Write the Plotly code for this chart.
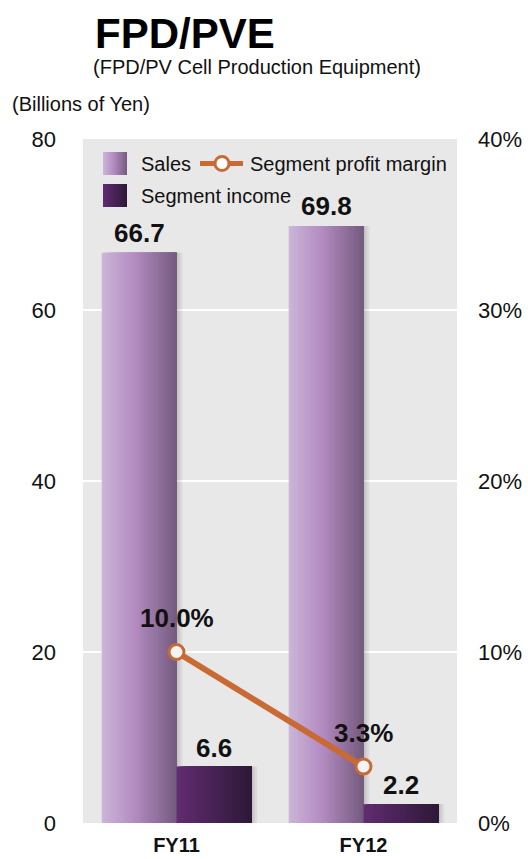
import plotly.graph_objects as go

# ---- data ----
categories = ["FY11", "FY12"]
sales = [66.7, 69.8]            # billions of yen
segment_income = [6.6, 2.2]     # billions of yen
profit_margin = [0.100, 0.033]  # share of sales

FONT = "Liberation Sans, Arial, sans-serif"
ORANGE = "#c96a35"

W, H = 528, 859
L, R, T, B = 83, 71, 139, 36
PW, PH = W - L - R, H - T - B


def lerp(stops, t):
    for (t0, c0), (t1, c1) in zip(stops, stops[1:]):
        if t <= t1:
            f = (t - t0) / (t1 - t0) if t1 > t0 else 0
            return "rgb(%d,%d,%d)" % tuple(round(a + (b - a) * f) for a, b in zip(c0, c1))
    return "rgb(%d,%d,%d)" % stops[-1][1]


SALES_STOPS = [(0.0, (203, 182, 216)), (0.45, (179, 139, 193)), (1.0, (116, 90, 126))]
INCOME_STOPS = [(0.0, (98, 44, 114)), (1.0, (45, 25, 55))]

BAR_W = 0.4
N = 36
px = 1.0 / (PW / 2)  # one pixel in category units

fig = go.Figure()


def shadow(values, start):
    # soft drop shadow to the right of a bar
    for k, a in enumerate([0.16, 0.10, 0.05]):
        fig.add_trace(go.Bar(
            x=categories, y=values, offset=start + BAR_W + k * 2 * px, width=2 * px,
            marker=dict(color="rgba(0,0,0,%.2f)" % a, line=dict(width=0)),
            showlegend=False, hoverinfo="skip"))


def gradient_bar(values, start, stops, name):
    # horizontal gradient built from thin overlapping slices, left to right
    sw = BAR_W / N
    for i in range(N):
        fig.add_trace(go.Bar(
            x=categories, y=values, offset=start + i * sw,
            width=(BAR_W - i * sw) if i < N - 1 else sw,
            marker=dict(color=lerp(stops, (i + 0.5) / N), line=dict(width=0)),
            name=name, showlegend=False, hoverinfo="skip"))


shadow(sales, -BAR_W)
shadow(segment_income, 0)
gradient_bar(sales, -BAR_W, SALES_STOPS, "Sales")
gradient_bar(segment_income, 0.0, INCOME_STOPS, "Segment income")

fig.add_trace(go.Scatter(
    x=categories, y=profit_margin, yaxis="y2", mode="lines+markers",
    line=dict(color=ORANGE, width=6),
    marker=dict(size=15, color="#f4f4f4", line=dict(color=ORANGE, width=3)),
    name="Segment profit margin", showlegend=False))

annotations = []
lab_font = dict(family=FONT, size=26, color="#111111", weight="bold")
for i, v in enumerate(sales):
    annotations.append(dict(x=i - BAR_W / 2, y=v, xref="x", yref="y", text=f"{v:.1f}",
                            showarrow=False, yanchor="bottom", yshift=3, font=lab_font))
for i, v in enumerate(segment_income):
    annotations.append(dict(x=i + BAR_W / 2, y=v, xref="x", yref="y", text=f"{v:.1f}",
                            showarrow=False, yanchor="bottom", yshift=2, font=lab_font))
for i, v in enumerate(profit_margin):
    annotations.append(dict(x=i, y=v, xref="x", yref="y2", text=f"{v * 100:.1f}%",
                            showarrow=False, yanchor="middle", yshift=34, font=lab_font))


def ppx(x):
    return (x - L) / PW


def ppy(y):
    return (H - B - y) / PH


# titles
annotations += [
    dict(x=ppx(93), y=ppy(33), xref="paper", yref="paper", text="<b>FPD/PVE</b>",
         showarrow=False, xanchor="left", yanchor="middle",
         font=dict(family=FONT, size=42, color="#000000")),
    dict(x=ppx(91), y=ppy(67), xref="paper", yref="paper",
         text="(FPD/PV Cell Production Equipment)",
         showarrow=False, xanchor="left", yanchor="middle",
         font=dict(family=FONT, size=20, color="#111111")),
    dict(x=ppx(10), y=ppy(104), xref="paper", yref="paper", text="(Billions of Yen)",
         showarrow=False, xanchor="left", yanchor="middle",
         font=dict(family=FONT, size=20, color="#111111")),
]

# legend drawn by hand
leg_font = dict(family=FONT, size=20, color="#111111")
shapes = []


def swatch(x0, y0, x1, y1, stops, n=24):
    w = (x1 - x0) / n
    for i in range(n):
        shapes.append(dict(type="rect", xref="paper", yref="paper",
                           x0=ppx(x0 + i * w), x1=ppx(x1),
                           y0=ppy(y1), y1=ppy(y0), line=dict(width=0),
                           fillcolor=lerp(stops, (i + 0.5) / n)))


swatch(103, 152, 127, 175, SALES_STOPS)
swatch(103, 184, 127, 207, INCOME_STOPS)
shapes.append(dict(type="line", xref="paper", yref="paper", x0=ppx(200), x1=ppx(243),
                   y0=ppy(163.5), y1=ppy(163.5), line=dict(color=ORANGE, width=5)))
shapes.append(dict(type="circle", xref="paper", yref="paper",
                   x0=ppx(215), x1=ppx(229), y0=ppy(170.5), y1=ppy(156.5),
                   fillcolor="#ffffff", line=dict(color=ORANGE, width=3)))
annotations += [
    dict(x=ppx(139), y=ppy(163.5), xref="paper", yref="paper", text="Sales",
         showarrow=False, xanchor="left", yanchor="middle", font=leg_font),
    dict(x=ppx(248), y=ppy(163.5), xref="paper", yref="paper", text="Segment profit margin",
         showarrow=False, xanchor="left", yanchor="middle", font=leg_font),
    dict(x=ppx(139), y=ppy(195.5), xref="paper", yref="paper", text="Segment income",
         showarrow=False, xanchor="left", yanchor="middle", font=leg_font),
]

fig.update_layout(
    width=W, height=H, margin=dict(l=L, r=R, t=T, b=B, autoexpand=False),
    paper_bgcolor="#ffffff", plot_bgcolor="#e8e8e8",
    barmode="overlay", showlegend=False,
    font=dict(family=FONT, color="#111111"),
    xaxis=dict(type="category", range=[-0.5, 1.5], showgrid=False, zeroline=False,
               showline=False, ticks="", ticklabelstandoff=8, automargin=False,
               tickfont=dict(family=FONT, size=20, color="#111111", weight="bold")),
    yaxis=dict(range=[0, 80], tickvals=[0, 20, 40, 60, 80], showgrid=True,
               gridcolor="#ffffff", gridwidth=2, zeroline=False, showline=False,
               ticks="", ticklabelstandoff=26, automargin=False,
               tickfont=dict(family=FONT, size=22, color="#111111")),
    yaxis2=dict(range=[0, 0.4], tickvals=[0, 0.1, 0.2, 0.3, 0.4], tickformat=".0%",
                overlaying="y", side="right", showgrid=False, zeroline=False,
                showline=False, ticks="", ticklabelstandoff=20, automargin=False,
                tickfont=dict(family=FONT, size=22, color="#111111")),
    annotations=annotations, shapes=shapes,
)

fig.write_html("out.html")
